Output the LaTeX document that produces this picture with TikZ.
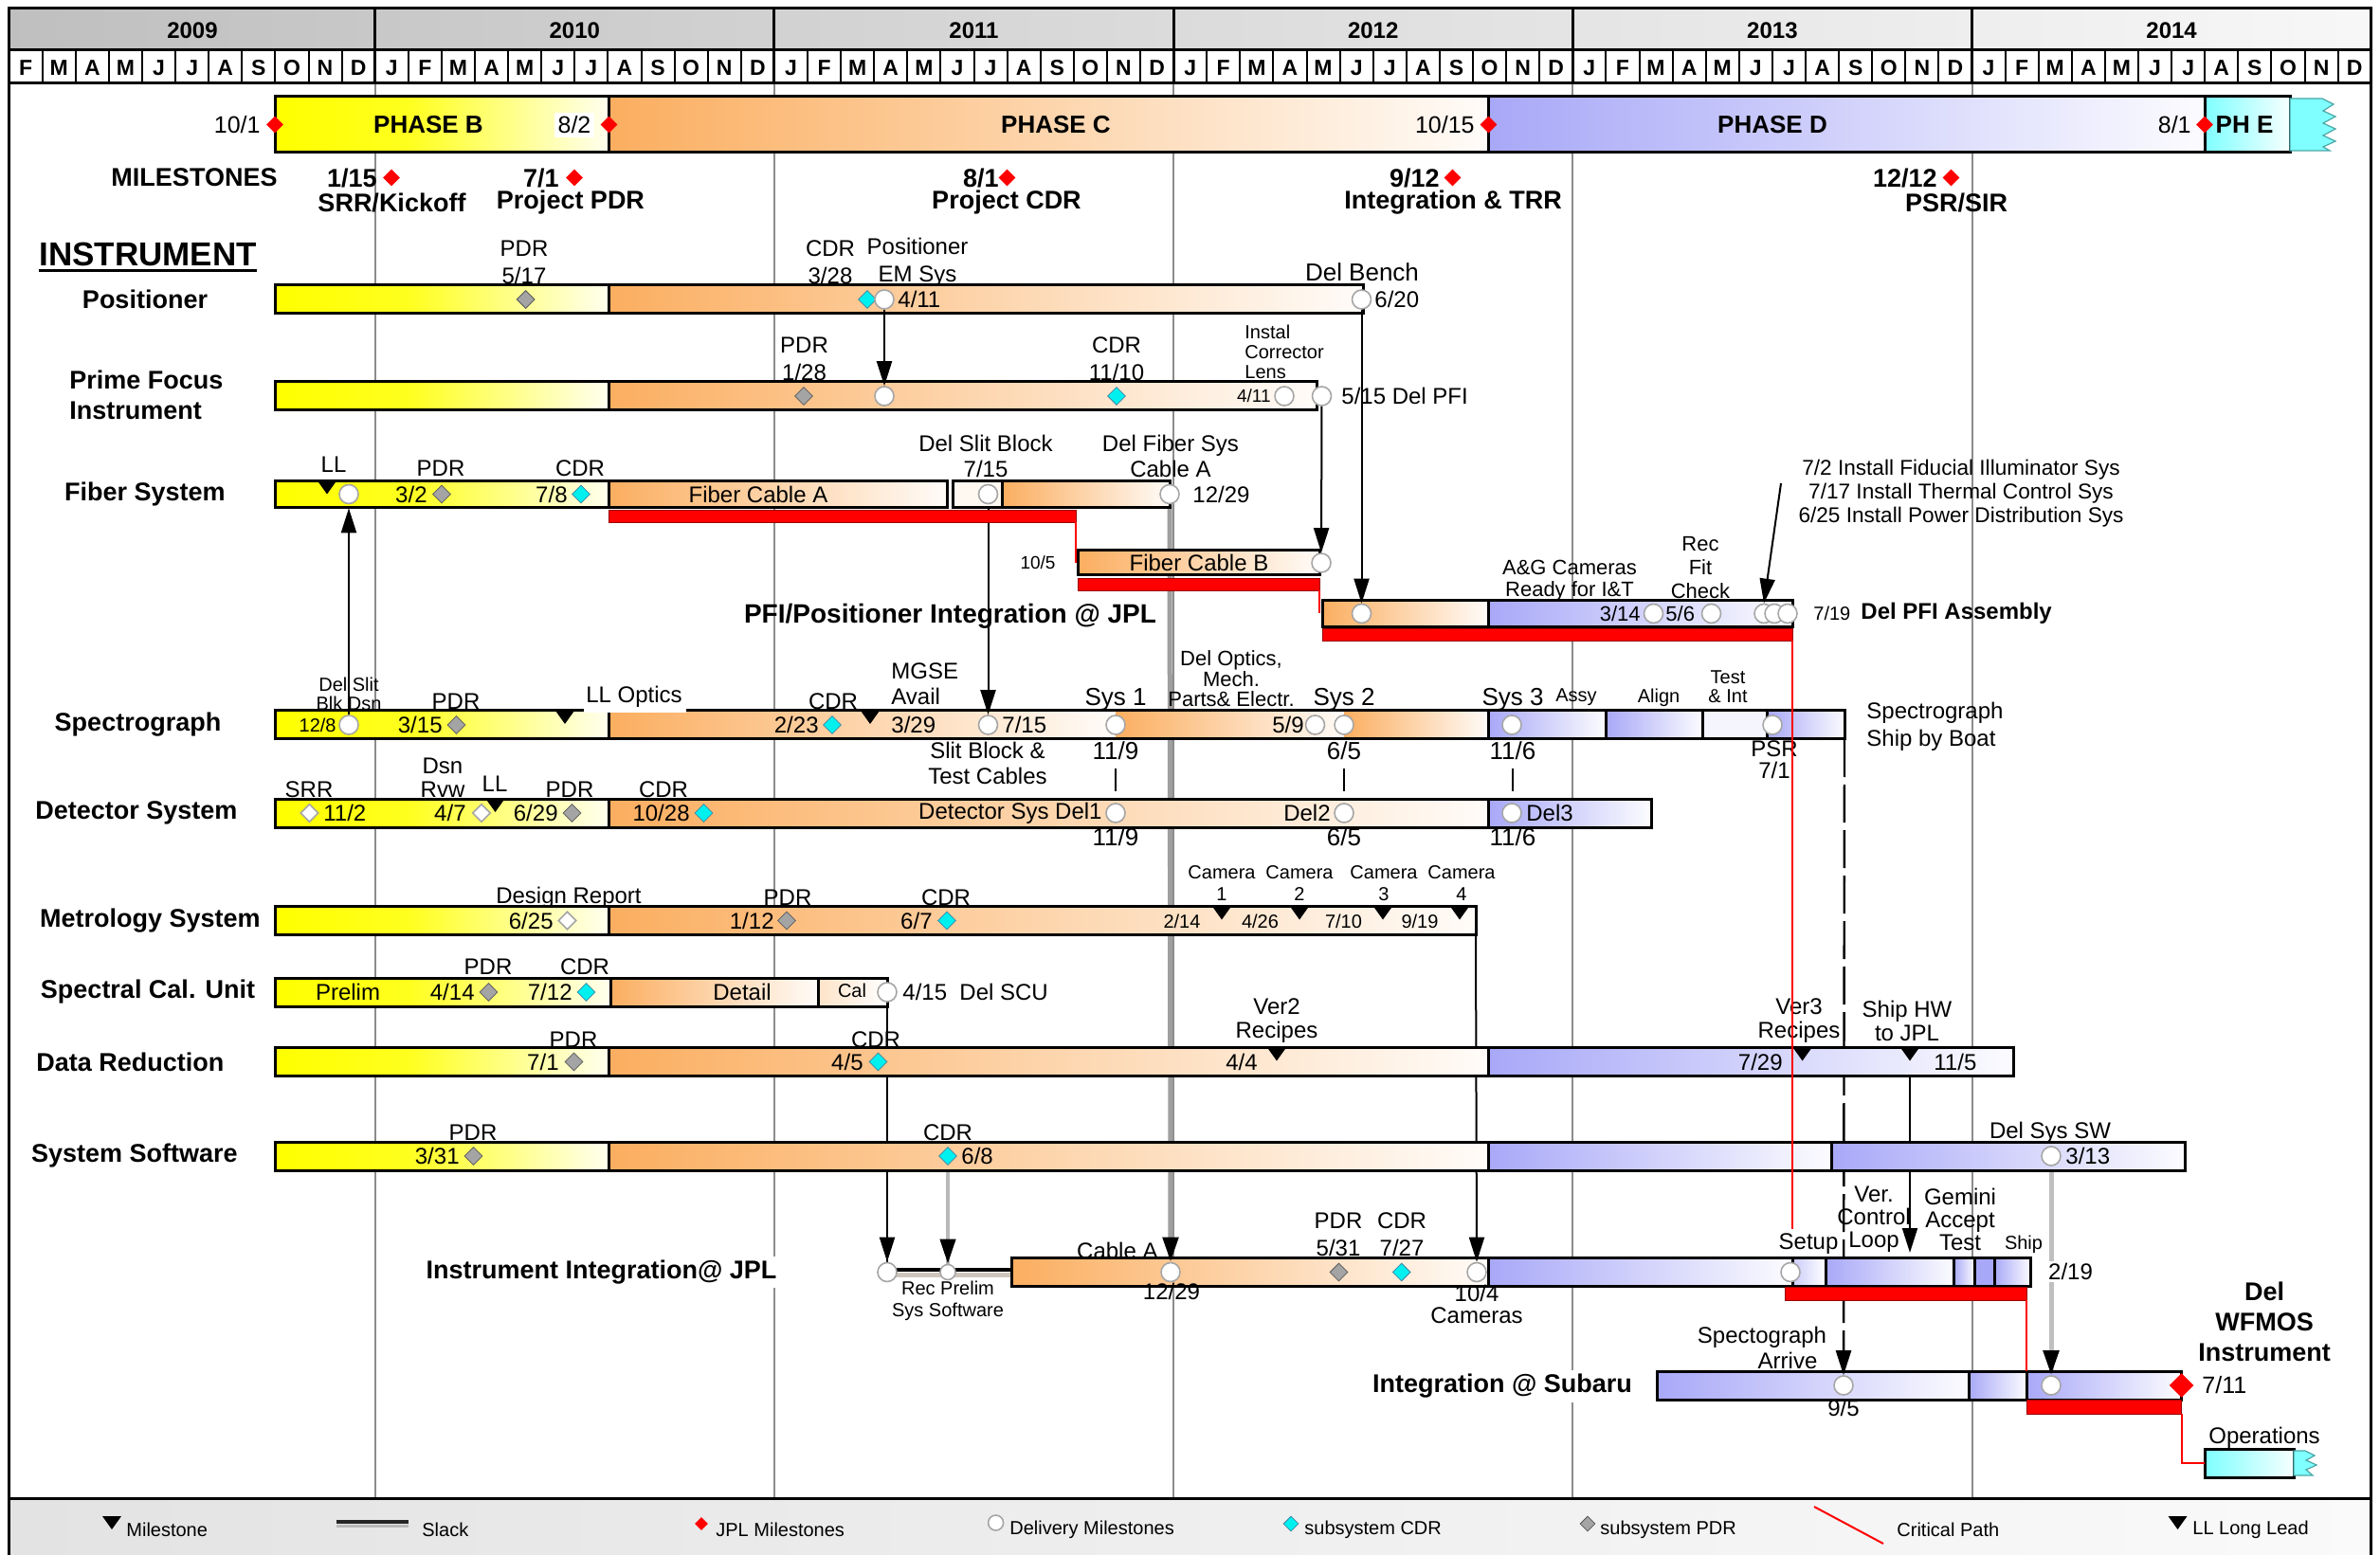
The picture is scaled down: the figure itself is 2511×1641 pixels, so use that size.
\documentclass[tikz,border=0pt]{standalone}
\usepackage{fontspec}
\setmainfont{Liberation Sans}
\usetikzlibrary{shapes.geometric,arrows.meta,calc}
\definecolor{orng}{HTML}{FBAE60}
\definecolor{blu}{HTML}{A8A8F8}
\definecolor{cyn}{HTML}{7FFFFF}
\definecolor{cdrc}{HTML}{00F0F0}
\definecolor{pdrc}{HTML}{A4A4A4}
\definecolor{gridc}{HTML}{8C8C8C}
\pgfdeclarehorizontalshading{yshade}{100bp}{color(0bp)=(yellow); color(25bp)=(yellow); color(45bp)=(yellow!88!white); color(75bp)=(yellow!6!white); color(100bp)=(yellow!6!white)}
\pgfdeclarehorizontalshading{oshade}{100bp}{color(0bp)=(orng); color(25bp)=(orng); color(75bp)=(orng!4!white); color(100bp)=(orng!4!white)}
\pgfdeclarehorizontalshading{bshade}{100bp}{color(0bp)=(blu); color(25bp)=(blu); color(75bp)=(blu!4!white); color(100bp)=(blu!4!white)}
\pgfdeclarehorizontalshading{cshade}{100bp}{color(0bp)=(cyn); color(25bp)=(cyn); color(75bp)=(cyn!6!white); color(100bp)=(cyn!6!white)}
\pgfdeclarehorizontalshading{hshade}{100bp}{color(0bp)=(gray!50); color(25bp)=(gray!50); color(75bp)=(gray!6); color(100bp)=(gray!6)}
\pgfdeclarehorizontalshading{lshade}{100bp}{color(0bp)=(gray!22); color(25bp)=(gray!22); color(75bp)=(gray!4); color(100bp)=(gray!4)}
\pgfdeclarelayer{back}
\pgfdeclarelayer{front}
\pgfsetlayers{back,main,front}
\tikzset{
 fnt/.style 2 args={font=\fontsize{#1}{#2}\selectfont},
 bfnt/.style 2 args={font=\fontsize{#1}{#2}\selectfont\bfseries},
 r12/.style={fnt={12}{14.25}, align=center},
 r13/.style={fnt={13}{14}, align=center},
 b13/.style={bfnt={13.5}{16}, align=center},
 barln/.style={draw=black, line width=1.5pt},
 ybar/.style={barln, shading=yshade},
 obar/.style={barln, shading=oshade},
 bbar/.style={barln, shading=bshade},
 cbar/.style={barln, shading=cshade},
 redbar/.style={fill=red, draw=red!60!black, line width=0.4pt},
 redln/.style={red, line width=1pt},
 circ/.style={circle, draw=gray!70, fill=white, line width=0.8pt, minimum size=10pt, inner sep=0pt},
 dcdr/.style={diamond, draw=cyan!60!black, fill=cdrc, line width=0.4pt, minimum size=9.5pt, inner sep=0pt},
 dpdr/.style={diamond, draw=gray!70!black, fill=pdrc, line width=0.4pt, minimum size=9.5pt, inner sep=0pt},
 dopen/.style={diamond, draw=gray!70, fill=white, line width=0.8pt, minimum size=9.5pt, inner sep=0pt},
 dred/.style={diamond, fill=red, minimum size=9pt, inner sep=0pt},
 conn/.style={draw=black, line width=1pt},
 arr/.style={-{Triangle[width=8pt,length=13pt,color=black]}, line width=1pt},
 lltri/.pic={\fill[black] (-10,0) -- (10,0) -- (0,14) -- cycle;},
 every node/.append style={inner sep=0pt},
}
\newcommand\ganttbar[4]{\shade[#1] (#2,{#4-15}) rectangle (#3,{#4+15});}
\begin{document}
\begin{tikzpicture}[x=0.5pt,y=-0.5pt]
\useasboundingbox (0,0) rectangle (2511,1641);
\begin{pgfonlayer}{back}
\fill[white] (0,0) rectangle (2511,1641);
\foreach \t in {12,24,36,48,60} \draw[gridc, line width=1pt] ({-25.5+\t*35.1},87.5) -- ({-25.5+\t*35.1},1581);
\end{pgfonlayer}

% ---------- header ----------
\shade[shading=hshade] (9.6,8.6) rectangle (2501.7,52.5);
\foreach \yr in {0,...,5}{
 \foreach \m/\ml in {0/J,1/F,2/M,3/A,4/M,5/J,6/J,7/A,8/S,9/O,10/N,11/D}{
  \pgfmathtruncatemacro\tidx{\yr*12+\m}
  \ifnum\tidx>0
   \node[bfnt={11.5}{12}] (mo\tidx) at ({-25.5+(\tidx+0.5)*35.1},72) {\ml};
  \fi
 }
}
\foreach \t in {2,...,71} \draw[line width=1pt] ({-25.5+\t*35.1},52.5) -- ({-25.5+\t*35.1},87.5);
\draw[line width=1.5pt] (9.6,52.5) -- (2501.7,52.5) (9.6,87.5) -- (2501.7,87.5);
\foreach \t in {12,24,36,48,60} \draw[line width=1.5pt] ({-25.5+\t*35.1},8.6) -- ({-25.5+\t*35.1},87.5);
\foreach \yr/\xc in {2009/203,2010/606.3,2011/1027.5,2012/1448.7,2013/1869.9,2014/2291.1}
  \node[bfnt={12}{13}] (y\yr) at (\xc,32) {\yr};

% ---------- legend band ----------
\shade[shading=lshade] (9.6,1581) rectangle (2501.7,1641);
\draw[line width=1.5pt] (9.6,1581) -- (2501.7,1581);
\draw[line width=1.5pt] (9.6,1641) -- (9.6,8.6) -- (2501.7,8.6) -- (2501.7,1641);

% ---------- phase bar ----------
\shade[ybar] (290,102) rectangle (642.5,161);
\shade[obar] (642.5,102) rectangle (1570.5,161);
\shade[bbar] (1570.5,102) rectangle (2326,161);
\shade[cbar] (2326,102) rectangle (2416,161);
\filldraw[fill=cyn, draw=teal!70, line width=0.6pt] (2416,104) -- (2450,104) -- (2462,110) -- (2451,117) -- (2464,123) -- (2451,130) -- (2464,136) -- (2451,143) -- (2464,149) -- (2451,155) -- (2458,159) -- (2416,159) -- cycle;
\node[bfnt={13}{14}] (tB) at (452,131.5) {PHASE B};
\node[bfnt={13}{14}] (tC) at (1114,131.5) {PHASE C};
\node[bfnt={13}{14}] (tD) at (1870,131.5) {PHASE D};
\node[bfnt={13}{14}] (tE) at (2368,131.5) {PH E};
\node[fnt={12.5}{13}, anchor=east] (d101) at (275,131.5) {10/1};
\node[fnt={12.5}{13}, fill=white, inner sep=2pt] (d82) at (606,132) {8/2};
\node[fnt={12.5}{13}, anchor=east] (d1015) at (1556,131.5) {10/15};
\node[fnt={12.5}{13}, anchor=east] (d81) at (2312,131.5) {8/1};
\node[dred] (phB) at (290,131.5) {};
\node[dred] (phC) at (642.5,131.5) {};
\node[dred] (phD) at (1570.5,131.5) {};
\node[dred] (phE) at (2326,131.5) {};

% ---------- milestones ----------
\node[b13] (msl) at (205,187.5) {MILESTONES};
\node[dred] (m1) at (413,187.5) {};
\node[dred] (m2) at (606,187.5) {};
\node[dred] (m3) at (1062.5,187.5) {};
\node[dred] (m4) at (1532.5,187.5) {};
\node[dred] (m5) at (2058.5,187.5) {};
\node[b13, anchor=east] (m1d) at (398,187.5) {1/15};
\node[b13, anchor=east] (m2d) at (590,187.5) {7/1};
\node[b13, anchor=east] (m3d) at (1054,187.5) {8/1};
\node[b13, anchor=east] (m4d) at (1519,187.5) {9/12};
\node[b13, anchor=east] (m5d) at (2044,187.5) {12/12};
\node[b13] (m1l) at (413.5,213.6) {SRR/Kickoff};
\node[b13] (m2l) at (602,213.6) {Project PDR};
\node[b13] (m3l) at (1062,213.6) {Project CDR};
\node[b13] (m4l) at (1533,213.6) {Integration \& TRR};
\node[b13] (m5l) at (2064,213.6) {PSR/SIR};

\node[bfnt={17.5}{18}] (instr) at (156,268) {INSTRUMENT};
\draw[line width=1.5pt] (41,286) -- (271,286);

% ---------- row labels ----------
\node[b13] (rP) at (153,316) {Positioner};
\node[b13, anchor=west] (rPFa) at (73,401) {Prime Focus};
\node[b13, anchor=west] (rPFb) at (73,433) {Instrument};
\node[b13] (rF) at (153,521.5) {Fiber System};
\node[b13] (rS) at (145.5,765) {Spectrograph};
\node[b13] (rD) at (144,858) {Detector System};
\node[b13] (rM) at (158.5,971.5) {Metrology System};
\node[b13] (rC) at (156,1047) {Spectral Cal. Unit};
\node[b13] (rR) at (137.5,1120.5) {Data Reduction};
\node[b13] (rW) at (142,1220) {System Software};

% ---------- bars ----------
\ganttbar{ybar}{290}{642.5}{316}
\ganttbar{obar}{642.5}{1438}{316}
\ganttbar{ybar}{290}{642.5}{418}
\ganttbar{obar}{642.5}{1389}{418}
\shade[ybar] (290,507.5) rectangle (642.5,535.5);
\shade[obar] (642.5,507.5) rectangle (999.6,535.5);
\filldraw[barln, fill=orng!8!white] (1005.7,507.5) rectangle (1057.5,535.5);
\shade[obar] (1057.5,507.5) rectangle (1234,535.5);
\shade[obar] (1137.5,581) rectangle (1392,607);
\shade[obar] (1395,633.5) rectangle (1570.5,661.5);
\shade[bbar] (1570.5,633.5) rectangle (1891,661.5);
% spectrograph
\shade[ybar] (290,750) rectangle (642.5,780);
\shade[shading=oshade] (642.5,750) rectangle (1177,780);
\shade[shading=oshade] (1177,750) rectangle (1418,780);
\shade[shading=oshade] (1418,750) rectangle (1570.5,780);
\draw[barln] (642.5,750) rectangle (1570.5,780);
\shade[bbar] (1570.5,750) rectangle (1694,780);
\shade[bbar] (1694,750) rectangle (1796,780);
\filldraw[barln, fill=blu!12!white] (1796,750) rectangle (1864.5,780);
\shade[bbar] (1864.5,750) rectangle (1946,780);
% detector
\ganttbar{ybar}{290}{642.5}{858}
\ganttbar{obar}{642.5}{1570.5}{858}
\ganttbar{bbar}{1570.5}{1742}{858}
% metrology
\ganttbar{ybar}{290}{642.5}{971.5}
\ganttbar{obar}{642.5}{1557}{971.5}
% spectral cal
\ganttbar{ybar}{290}{644.5}{1047}
\ganttbar{obar}{644.5}{863}{1047}
\shade[barln, left color=orng!35!white, right color=white] (863,1032) rectangle (936,1062);
% data reduction
\ganttbar{ybar}{290}{642.5}{1120.5}
\ganttbar{obar}{642.5}{1570.5}{1120.5}
\ganttbar{bbar}{1570.5}{2124}{1120.5}
% system software
\ganttbar{ybar}{290}{642.5}{1220}
\ganttbar{obar}{642.5}{1570.5}{1220}
\ganttbar{bbar}{1570.5}{1932}{1220}
\ganttbar{bbar}{1932}{2305.7}{1220}
% instrument integration
\draw[line width=1.8pt] (936,1340) -- (1067,1340);
\draw[line width=2.2pt, brown!30!gray!45] (936,1345.5) -- (1067,1345.5);
\ganttbar{obar}{1067}{1570.5}{1342.5}
\ganttbar{bbar}{1570.5}{1891}{1342.5}
\shade[barln, left color=blu!60!white, right color=white] (1891,1327.5) rectangle (1926,1357.5);
\ganttbar{bbar}{1926}{2061}{1342.5}
\ganttbar{bbar}{2061}{2083}{1342.5}
\filldraw[barln, fill=blu] (2083,1327.5) rectangle (2104,1357.5);
\ganttbar{bbar}{2104}{2142}{1342.5}
% subaru
\ganttbar{bbar}{1748}{2077}{1462}
\ganttbar{bbar}{2077}{2138}{1462}
\ganttbar{bbar}{2138}{2301.6}{1462}
% operations
\shade[cbar] (2326,1529) rectangle (2420,1559);
\filldraw[fill=cyn, draw=teal!70, line width=0.6pt] (2420,1531) -- (2432,1531) -- (2442,1536) -- (2433,1541) -- (2444,1546) -- (2433,1551) -- (2440,1557) -- (2420,1557) -- cycle;

% ---------- critical path ----------
\filldraw[redbar] (642,538) rectangle (1135,551);
\filldraw[redbar] (1137,610) rectangle (1392,623);
\filldraw[redbar] (1395,663) rectangle (1891,676);
\filldraw[redbar] (1883,1358.5) rectangle (2138,1372);
\filldraw[redbar] (2138,1477.5) rectangle (2301.6,1492);

% LL Optics cut-out
\fill[white] (616,721) rectangle (724,751.6);
\node[r12] (lS5) at (669,735) {LL Optics};

% ---------- LL / milestone triangles ----------
\pic at (345,507.5) {lltri};
\pic at (596,750) {lltri};
\pic at (918,750) {lltri};
\pic at (522.5,843) {lltri};
\foreach \xc in {1289,1371,1459,1540} \pic at (\xc,956.5) {lltri};
\foreach \xc in {1347,1901.6,2015} \pic at (\xc,1105.5) {lltri};

% ---------- diamonds ----------
\node[dpdr] (gP) at (554.6,316) {};
\node[dpdr] (gPFI) at (848,418) {};
\node[dpdr] (gF) at (466,521.5) {};
\node[dpdr] (gS) at (481.5,765) {};
\node[dpdr] (gD) at (603.5,858) {};
\node[dpdr] (gM) at (830,971.5) {};
\node[dpdr] (gC) at (515.5,1047) {};
\node[dpdr] (gR) at (605.5,1120.5) {};
\node[dpdr] (gW) at (499.5,1220) {};
\node[dpdr] (gI) at (1412.5,1342.5) {};
\node[dcdr] (cP) at (915,316) {};
\node[dcdr] (cPFI) at (1178,418) {};
\node[dcdr] (cF) at (613,521.5) {};
\node[dcdr] (cS) at (878,765) {};
\node[dcdr] (cD) at (742.5,858) {};
\node[dcdr] (cM) at (999,971.5) {};
\node[dcdr] (cC) at (618.5,1047) {};
\node[dcdr] (cR) at (926.5,1120.5) {};
\node[dcdr] (cW) at (1000,1220) {};
\node[dcdr] (cI) at (1478.7,1342.5) {};
\node[dopen] (oD1) at (326.5,858) {};
\node[dopen] (oD2) at (508,858) {};
\node[dopen] (oM) at (598.5,971.5) {};

% ---------- circles ----------
\node[circ] (pEM) at (933,316) {};
\node[circ] (pDB) at (1436.5,316) {};
\node[circ] (fEM) at (933,418) {};
\node[circ] (f411) at (1355,418) {};
\node[circ] (fDel) at (1394.5,418) {};
\node[circ] (fbLL) at (368,521.5) {};
\node[circ] (fbDSB) at (1042.5,521.5) {};
\node[circ] (fb1229) at (1234,521.5) {};
\node[circ] (fcB) at (1394,594) {};
\node[circ] (pi1) at (1436.5,647.5) {};
\node[circ] (pi314) at (1744.5,647.5) {};
\node[circ] (pi56) at (1805.5,647.5) {};
\node[circ] (pi625) at (1861,647.5) {};
\node[circ] (pi72) at (1872,647.5) {};
\node[circ] (pi717) at (1886,647.5) {};
\node[circ] (sp128) at (368,765) {};
\node[circ] (sp715) at (1042.5,765) {};
\node[circ] (sp119) at (1177,765) {};
\node[circ] (sp59) at (1387.5,765) {};
\node[circ] (sp65) at (1418,765) {};
\node[circ] (sp116) at (1595,765) {};
\node[circ] (sp71) at (1870,765) {};
\node[circ] (dt119) at (1177,858) {};
\node[circ] (dt65) at (1418,858) {};
\node[circ] (dt116) at (1595,858) {};
\node[circ] (scu) at (936,1047) {};
\node[circ] (ws313) at (2164,1220) {};
\node[circ] (ii1) at (936,1342.5) {};
\node[circ, minimum size=8pt] (ii2) at (1000,1342.5) {};
\node[circ] (ii1229) at (1235,1342.5) {};
\node[circ] (ii104) at (1558,1342.5) {};
\node[circ] (iiSet) at (1889,1342.5) {};
\node[circ] (su95) at (1945,1462) {};
\node[circ] (su219) at (2164,1462) {};
\node[dred, minimum size=13pt] (suEnd) at (2301.6,1462) {};

\coordinate (metEnd) at (1557,986.5);
\coordinate (specEnd) at (1946,780);
\coordinate (dr115) at (2015,1119.5);
\coordinate (iiGem) at (2015,1322);
\coordinate (instTxt) at (1879,510);

% ---------- labels ----------
% positioner
\node[r12] (lP1) at (553,276.75) {PDR\\5/17};
\node[r12] (lP2) at (876,276.75) {CDR\\3/28};
\node[r12] (lP3) at (968,276.75) {Positioner\\EM Sys};
\node[r12, anchor=west] (lP4) at (947,316) {4/11};
\node[r13] (lDB) at (1437,287.5) {Del Bench};
\node[r12, anchor=west] (l620) at (1450,316) {6/20};
% PFI
\node[fnt={12}{14.5}, align=center] (lF1) at (848.5,378.5) {PDR\\1/28};
\node[fnt={12}{14.5}, align=center] (lF2) at (1178,378.5) {CDR\\11/10};
\node[fnt={10}{10.5}, align=left, anchor=west] (lF3) at (1313,371) {Instal\\Corrector\\Lens};
\node[fnt={9.5}{10}, anchor=east] (lF4) at (1341,418) {4/11};
\node[r12, anchor=west] (lF5) at (1415,418) {5/15 Del PFI};
% fiber
\node[r12] (lFb1) at (352,490) {LL};
\node[r12] (lFb2) at (465,494.6) {PDR};
\node[r12, anchor=east] (lFb3) at (451,521.5) {3/2};
\node[r12] (lFb4) at (612,494.6) {CDR};
\node[r12, anchor=east] (lFb5) at (599,521.5) {7/8};
\node[r12] (lFb6) at (800,521.5) {Fiber Cable A};
\node[fnt={12}{13.3}, align=center] (lFb7) at (1040,481.3) {Del Slit Block\\7/15};
\node[fnt={12}{13.3}, align=center] (lFb8) at (1235,481.3) {Del Fiber Sys\\Cable A};
\node[r12, anchor=west] (lFb9) at (1258,521.5) {12/29};
\node[fnt={9.5}{10}] (lFc1) at (1095,594) {10/5};
\node[r12] (lFc2) at (1265,594) {Fiber Cable B};
% PFI / positioner integration
\node[bfnt={14}{15}] (lPI) at (1002.5,650) {PFI/Positioner Integration @ JPL};
\node[fnt={11}{11.5}, align=center] (lPI1) at (1656,612.5) {A\&G Cameras\\Ready for I\&T};
\node[fnt={11}{12.5}, align=center] (lPI2) at (1794,599) {Rec\\Fit\\Check};
\node[fnt={11}{12}, anchor=east] (lPI3) at (1731,647.5) {3/14};
\node[fnt={11}{12}, anchor=west] (lPI4) at (1757,647.5) {5/6};
\node[fnt={10}{11}, anchor=west] (lPI5) at (1913,647.5) {7/19};
\node[bfnt={12}{13}, anchor=west] (lPI6) at (1963,647.5) {Del PFI Assembly};
\node[fnt={11.3}{12.5}, align=center] (lPI7) at (2069,521) {7/2 Install Fiducial Illuminator Sys\\7/17 Install Thermal Control Sys\\6/25 Install Power Distribution Sys};
% spectrograph
\node[fnt={10}{10}, align=center] (lS1) at (368,732) {Del Slit\\Blk Dsn};
\node[fnt={10}{11}, anchor=east] (lS2) at (355,765) {12/8};
\node[r12] (lS3) at (481,740) {PDR};
\node[r12, anchor=east] (lS4) at (467,765) {3/15};
\node[r12] (lS6) at (879,740) {CDR};
\node[r12, anchor=east] (lS7) at (864,765) {2/23};
\node[fnt={12}{13.5}, align=left, anchor=west] (lS8) at (940,721.5) {MGSE\\Avail};
\node[r12, anchor=west] (lS9) at (940,765) {3/29};
\node[r12, anchor=west] (lS10) at (1057,765) {7/15};
\node[fnt={12}{13.3}, align=center] (lS11) at (1042,805.3) {Slit Block \&\\Test Cables};
\node[r13] (lS12) at (1177,738) {Sys 1};
\node[r13] (lS13) at (1177,792) {11/9};
\node[fnt={11}{10.75}, align=center] (lS14) at (1299,716.5) {Del Optics,\\Mech.\\Parts\& Electr.};
\node[r12, anchor=east] (lS15) at (1376,765) {5/9};
\node[r13] (lS16) at (1418,738) {Sys 2};
\node[r13] (lS17) at (1418,792) {6/5};
\node[r13] (lS18) at (1596,738) {Sys 3};
\node[r13] (lS19) at (1596,792) {11/6};
\node[fnt={10}{10}] (lS20) at (1663,736) {Assy};
\node[fnt={10}{10}] (lS21) at (1750,736) {Align};
\node[fnt={10}{10}, align=center] (lS22) at (1823,725) {Test\\\& Int};
\node[fnt={12}{11.5}, align=center] (lS23) at (1872,801.5) {PSR\\7/1};
\node[fnt={12}{14.25}, align=left, anchor=west] (lS24) at (1969,767) {Spectrograph\\Ship by Boat};
\draw[line width=1pt] (1177,811) -- (1177,835);
\draw[line width=1pt] (1418,811) -- (1418,835);
\draw[line width=1pt] (1596,811) -- (1596,835);
% detector
\node[r12] (lD1) at (326,833) {SRR};
\node[r12, anchor=west] (lD2) at (341,858) {11/2};
\node[fnt={12}{12.5}, align=center] (lD3) at (467,820.5) {Dsn\\Rvw};
\node[r12, anchor=east] (lD4) at (492,858) {4/7};
\node[r12] (lD5) at (522,827.5) {LL};
\node[r12] (lD6) at (601,833) {PDR};
\node[r12, anchor=east] (lD7) at (589,858) {6/29};
\node[r12] (lD8) at (700,833) {CDR};
\node[r12, anchor=east] (lD9) at (728,858) {10/28};
\node[r12, anchor=east] (lD10) at (1163,858) {Detector Sys Del1};
\node[r13] (lD11) at (1177,883) {11/9};
\node[r12, anchor=east] (lD12) at (1404,858) {Del2};
\node[r13] (lD13) at (1418,883) {6/5};
\node[r12, anchor=west] (lD14) at (1610,858) {Del3};
\node[r13] (lD15) at (1596,883) {11/6};
% metrology
\node[r12] (lM1) at (600,947) {Design Report};
\node[r12, anchor=east] (lM2) at (584,971.5) {6/25};
\node[r12] (lM3) at (831,947) {PDR};
\node[r12, anchor=east] (lM4) at (817,971.5) {1/12};
\node[r12] (lM5) at (998,947) {CDR};
\node[r12, anchor=east] (lM6) at (984,971.5) {6/7};
\node[fnt={10}{11.8}, align=center] (lMc1) at (1289,932) {Camera\\1};
\node[fnt={10}{11.8}, align=center] (lMc2) at (1371,932) {Camera\\2};
\node[fnt={10}{11.8}, align=center] (lMc3) at (1460,932) {Camera\\3};
\node[fnt={10}{11.8}, align=center] (lMc4) at (1542,932) {Camera\\4};
\node[fnt={10}{11}] (lMd1) at (1247,972) {2/14};
\node[fnt={10}{11}] (lMd2) at (1329.5,972) {4/26};
\node[fnt={10}{11}] (lMd3) at (1417.5,972) {7/10};
\node[fnt={10}{11}] (lMd4) at (1498,972) {9/19};
% spectral cal
\node[r12] (lC1) at (367,1047) {Prelim};
\node[r12] (lC2) at (515,1020) {PDR};
\node[r12, anchor=east] (lC3) at (501,1047) {4/14};
\node[r12] (lC4) at (617,1020) {CDR};
\node[r12, anchor=east] (lC5) at (604,1047) {7/12};
\node[r12] (lC6) at (783,1047) {Detail};
\node[fnt={10}{11}] (lC7) at (899,1045) {Cal};
\node[r12, anchor=west] (lC8) at (952,1047) {4/15~~Del SCU};
% data reduction
\node[r12] (lR1) at (605,1097) {PDR};
\node[r12, anchor=east] (lR2) at (590,1120.5) {7/1};
\node[r12] (lR3) at (924,1097) {CDR};
\node[r12, anchor=east] (lR4) at (911,1120.5) {4/5};
\node[fnt={12}{12.5}, align=center] (lR5) at (1347,1077.5) {Ver2\\Recipes};
\node[r12, anchor=east] (lR6) at (1327,1120.5) {4/4};
\node[fnt={12}{12.5}, align=center] (lR7) at (1898,1077.5) {Ver3\\Recipes};
\node[r12, anchor=east] (lR8) at (1881,1120.5) {7/29};
\node[fnt={12}{12.5}, align=center] (lR9) at (2012,1077.5) {Ship HW\\to JPL};
\node[r12, anchor=west] (lR10) at (2040,1120.5) {11/5};
% system software
\node[r12] (lW1) at (499,1195) {PDR};
\node[r12, anchor=east] (lW2) at (485,1220) {3/31};
\node[r12] (lW3) at (1000,1195) {CDR};
\node[r12, anchor=west] (lW4) at (1014,1220) {6/8};
\node[r12] (lW5) at (2163,1195) {Del Sys SW};
\node[r12, anchor=west] (lW6) at (2179,1220) {3/13};
% instrument integration
\node[b13, fill=white, inner sep=2pt] (lI) at (634.5,1342.5) {Instrument Integration@ JPL};
\node[fnt={10}{11.75}, align=center] (lI1) at (1000,1373) {Rec Prelim\\Sys Software};
\node[r12, anchor=east] (lI2) at (1222,1320) {Cable A};
\node[r12] (lI3) at (1236,1363) {12/29};
\node[fnt={12}{14.5}, align=center] (lI4) at (1412,1302.5) {PDR\\5/31};
\node[fnt={12}{14.5}, align=center] (lI5) at (1479,1302.5) {CDR\\7/27};
\node[fnt={12}{11.5}, align=center] (lI6) at (1558,1376.5) {10/4\\Cameras};
\node[r12] (lI7) at (1908,1313) {Setup};
\node[fnt={12}{12}, align=center] (lI8) at (1977,1287) {Ver.\\Control\\Loop};
\node[fnt={12}{12}, align=center] (lI9) at (2068,1287) {Gemini\\Accept\\Test};
\node[fnt={10}{11}] (lI10) at (2135,1313) {Ship};
\node[r12, fill=white, inner sep=1pt] (lI11) at (2184.5,1342) {2/19};
% subaru
\node[b13, fill=white, inner sep=2pt] (lSu) at (1585,1463) {Integration @ Subaru};
\node[r12] (lSu1) at (1859,1411) {Spectograph};
\node[r12] (lSu2) at (1886,1436) {Arrive};
\node[r12] (lSu3) at (1945,1486) {9/5};
\node[fnt={12.5}{13}, anchor=west] (lSu4) at (2323,1462) {7/11};
\node[bfnt={13.5}{16}, align=center] (lSu5) at (2389,1395) {Del\\WFMOS\\Instrument};
\node[r12] (lO) at (2389,1517) {Operations};

% ---------- legend ----------
\pic at (118,1600) {lltri};
\node[fnt={10}{11}, anchor=west] (lg1) at (133,1614) {Milestone};
\draw[line width=2.2pt, black!85] (355,1606) -- (431,1606);
\draw[line width=1.6pt, gray!55] (355,1610.5) -- (431,1610.5);
\node[fnt={10}{11}, anchor=west] (lg2) at (445,1614) {Slack};
\node[dred, minimum size=7pt] (lgj) at (740,1608) {};
\node[fnt={10}{11}, anchor=west] (lg3) at (755,1614) {JPL Milestones};
\node[circ, minimum size=8pt] (lgd) at (1050.6,1607) {};
\node[fnt={10}{11}, anchor=west] (lg4) at (1065,1614) {Delivery Milestones};
\node[dcdr, minimum size=8pt] (lgc) at (1362,1608) {};
\node[fnt={10}{11}, anchor=west] (lg5) at (1376,1614) {subsystem CDR};
\node[dpdr, minimum size=8pt] (lgp) at (1675,1608) {};
\node[fnt={10}{11}, anchor=west] (lg6) at (1688,1614) {subsystem PDR};
\draw[redln] (1914,1590) -- (1987,1629);
\node[fnt={10}{11}, anchor=west] (lg7) at (2001,1614) {Critical Path};
\pic at (2297.5,1600) {lltri};
\node[fnt={10}{11}, anchor=west] (lg8) at (2313,1614) {LL Long Lead};

% ---------- connectors behind bars ----------
\begin{pgfonlayer}{back}
\draw[conn] (fbDSB) -- (sp715.north);
\draw[conn, gray!75, line width=2.5pt] (fb1229) -- (ii1229.north);
\draw[conn] (metEnd) -- (ii104.north);
\draw[conn] (scu) -- (ii1.north);
\draw[conn, gray!55, line width=2pt] (cW) -- (ii2.north);
\draw[conn, line width=1.2pt, dash pattern=on 20pt off 4pt] (specEnd) -- (su95.north);
\draw[conn, arr] (dr115) -- (iiGem);
\draw[conn, gray!50, line width=2.5pt] (ws313) -- (su219.north);
\end{pgfonlayer}

% ---------- connectors on top ----------
\begin{pgfonlayer}{front}
\draw[redln] (1135,551) -- (1135,594);
\draw[redln] (1392,623) -- (1392,647);
\draw[redln] (1891,676) -- (1891,1297);
\draw[redln] (2138,1372) -- (2138,1447);
\draw[redln] (2301.6,1492) -- (2301.6,1544) -- (2326,1544);
\draw[arr] (pEM) -- (fEM.north);
\draw[arr] (fDel) -- (fcB.north);
\draw[arr] (pDB) -- (pi1.north);
\draw[arr, shorten >=2pt] (sp128) -- (fbLL.south);
\draw[arr] (instTxt) -- (pi625.north);
\draw[arr] ([yshift=14pt]sp715.north) -- (sp715.north);
\draw[arr, gray!75, line width=2.5pt] ([yshift=14pt]ii1229.north) -- (ii1229.north);
\draw[arr] ([yshift=14pt]ii104.north) -- (ii104.north);
\draw[arr] ([yshift=14pt]ii1.north) -- (ii1.north);
\draw[arr, gray!55, line width=2pt] ([yshift=14pt]ii2.north) -- (ii2.north);
\draw[arr, line width=1.2pt] ([yshift=14pt]su95.north) -- (su95.north);
\draw[arr, gray!50, line width=2.5pt] ([yshift=14pt]su219.north) -- (su219.north);
\end{pgfonlayer}
\end{tikzpicture}
\end{document}
